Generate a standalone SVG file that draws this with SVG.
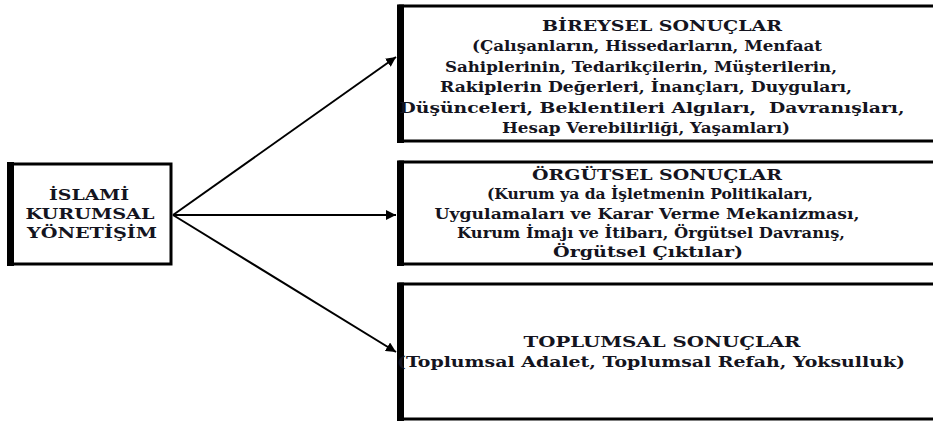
<svg xmlns="http://www.w3.org/2000/svg" width="933" height="423" viewBox="0 0 933 423">
<style>
.box{fill:#fff;stroke:#000;stroke-width:3}
.thick{stroke:#000;stroke-width:7}
.t{font-family:"DejaVu Serif","Liberation Serif",serif;font-weight:bold;font-size:14px;fill:#141420;text-anchor:middle}
.conn{stroke:#000;stroke-width:2;fill:none}
</style>
<defs>
<marker id="ah" viewBox="0 0 10 10" refX="10" refY="5" markerWidth="5" markerHeight="5" orient="auto" markerUnits="strokeWidth">
<path d="M0,0 L10,5 L0,10 z" fill="#000"/>
</marker>
</defs>
<rect width="933" height="423" fill="#fff"/>
<g id="n-islami">
<rect class="box" x="9" y="164" width="162" height="100" stroke-width="4"/>
<line class="thick" x1="10.5" y1="162" x2="10.5" y2="266"/>
<text class="t" x="89" y="200" textLength="80" lengthAdjust="spacingAndGlyphs">İSLAMİ</text>
<text class="t" x="90" y="219" textLength="129" lengthAdjust="spacingAndGlyphs">KURUMSAL</text>
<text class="t" x="92" y="238" textLength="130" lengthAdjust="spacingAndGlyphs">YÖNETİŞİM</text>
</g>
<g id="n-bireysel">
<rect class="box" x="400" y="6" width="545" height="135"/>
<line class="thick" x1="400.5" y1="4.5" x2="400.5" y2="143"/>
<text class="t" x="662" y="31" textLength="240" lengthAdjust="spacingAndGlyphs">BİREYSEL SONUÇLAR</text>
<text class="t" x="647" y="51" textLength="350" lengthAdjust="spacingAndGlyphs">(Çalışanların, Hissedarların, Menfaat</text>
<text class="t" x="641" y="72" textLength="392" lengthAdjust="spacingAndGlyphs">Sahiplerinin, Tedarikçilerin, Müşterilerin,</text>
<text class="t" x="646" y="92" textLength="412" lengthAdjust="spacingAndGlyphs">Rakiplerin Değerleri, İnançları, Duyguları,</text>
<text class="t" x="652" y="113" textLength="505" lengthAdjust="spacingAndGlyphs" xml:space="preserve">Düşünceleri, Beklentileri Algıları,  Davranışları,</text>
<text class="t" x="646" y="133" textLength="288" lengthAdjust="spacingAndGlyphs">Hesap Verebilirliği, Yaşamları)</text>
</g>
<g id="n-orgutsel">
<rect class="box" x="400" y="162" width="545" height="102"/>
<line class="thick" x1="400.5" y1="160.5" x2="400.5" y2="266"/>
<text class="t" x="657" y="180" textLength="250" lengthAdjust="spacingAndGlyphs">ÖRGÜTSEL SONUÇLAR</text>
<text class="t" x="650" y="199" textLength="326" lengthAdjust="spacingAndGlyphs">(Kurum ya da İşletmenin Politikaları,</text>
<text class="t" x="647" y="219" textLength="425" lengthAdjust="spacingAndGlyphs">Uygulamaları ve Karar Verme Mekanizması,</text>
<text class="t" x="651" y="238" textLength="388" lengthAdjust="spacingAndGlyphs">Kurum İmajı ve İtibarı, Örgütsel Davranış,</text>
<text class="t" x="648" y="257" textLength="190" lengthAdjust="spacingAndGlyphs">Örgütsel Çıktılar)</text>
</g>
<g id="n-toplumsal">
<rect class="box" x="400" y="284" width="545" height="135"/>
<line class="thick" x1="400.5" y1="282.5" x2="400.5" y2="421"/>
<text class="t" x="662" y="347" textLength="277" lengthAdjust="spacingAndGlyphs">TOPLUMSAL SONUÇLAR</text>
<text class="t" x="651" y="367" textLength="508" lengthAdjust="spacingAndGlyphs">(Toplumsal Adalet, Toplumsal Refah, Yoksulluk)</text>
</g>
<g id="connectors">
<line class="conn" x1="173" y1="215" x2="396" y2="57" marker-end="url(#ah)"/>
<line class="conn" x1="173" y1="215" x2="396" y2="215" marker-end="url(#ah)"/>
<line class="conn" x1="173" y1="215" x2="396" y2="352" marker-end="url(#ah)"/>
</g>
</svg>
